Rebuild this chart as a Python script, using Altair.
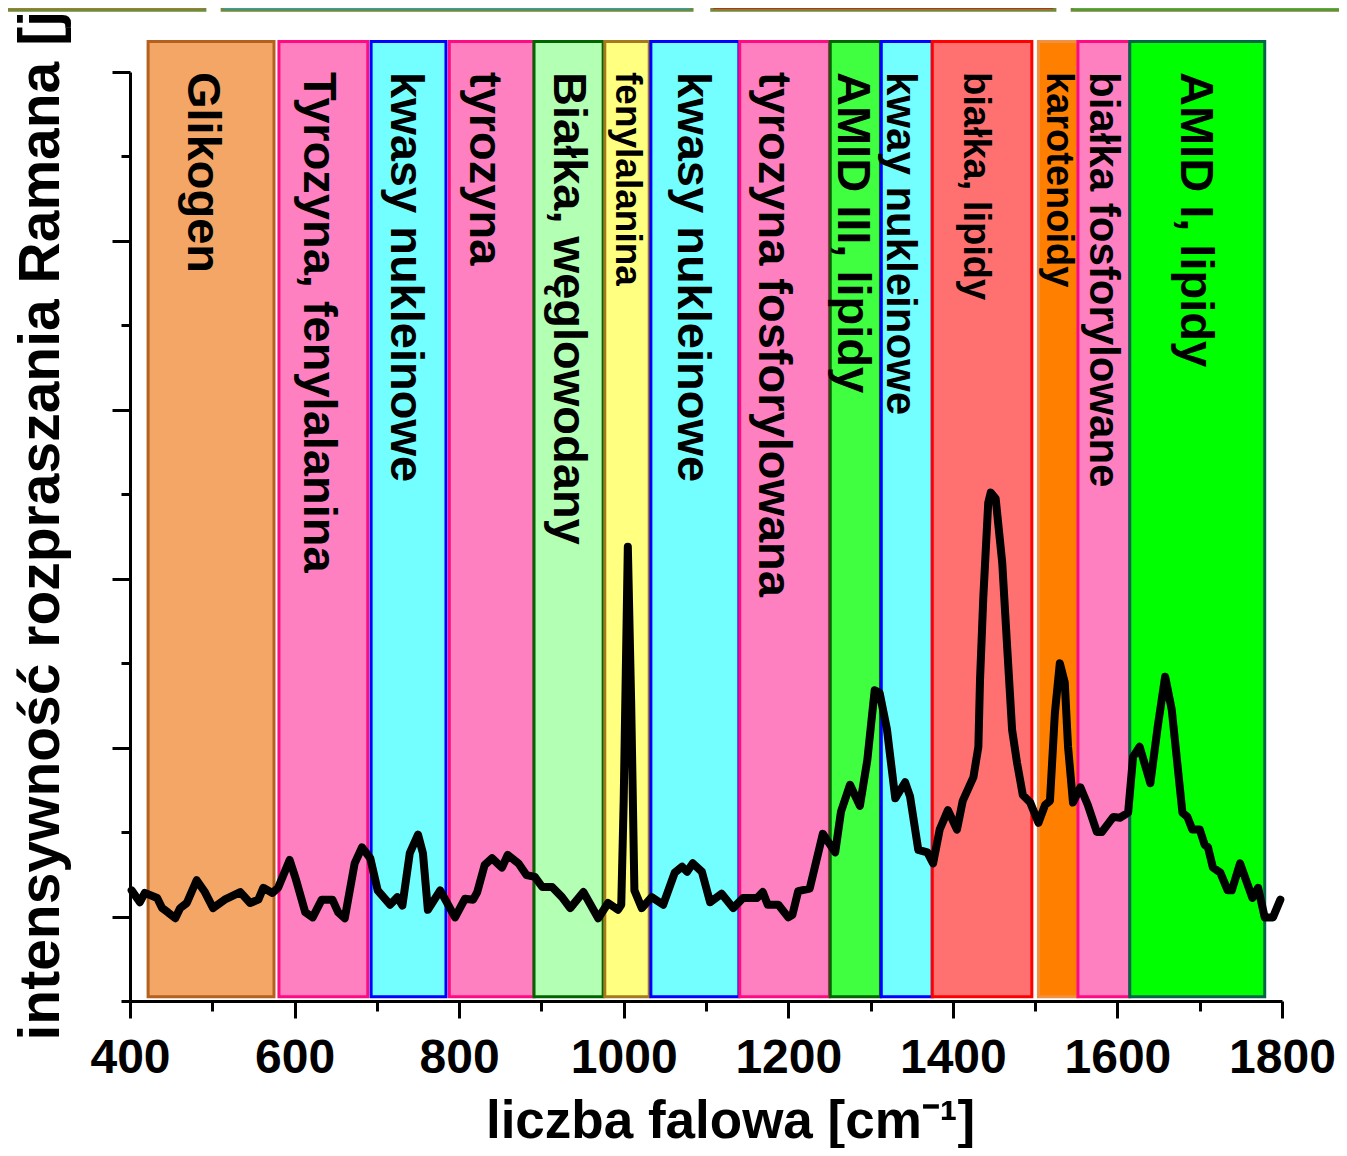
import altair as alt
import pandas as pd

# ---- spectrum ----
wavenumber = [402, 412, 418, 433, 439, 446, 455, 461, 469, 481, 491, 501, 515, 534, 546, 556, 562, 573, 580,
              594, 601, 613, 622, 633, 646, 653, 661, 673, 682, 692, 701, 716, 725, 731, 740, 750, 756, 762,
              777, 795, 807, 817, 822, 831, 840, 852, 859, 872, 882, 892, 901, 913, 925, 935, 951, 969, 981,
              993, 997, 1000, 1005, 1009, 1013, 1022, 1034, 1048, 1062, 1071, 1077, 1084, 1095, 1105, 1119,
              1133, 1145, 1162, 1169, 1175, 1188, 1200, 1205, 1212, 1226, 1242, 1257, 1264, 1275, 1287, 1296,
              1305, 1311, 1320, 1330, 1342, 1348, 1358, 1369, 1376, 1384, 1394, 1405, 1412, 1425, 1431, 1433,
              1437, 1443, 1446, 1452, 1460, 1466, 1472, 1478, 1485, 1494, 1504, 1512, 1518, 1524, 1530, 1536,
              1540, 1546, 1555, 1564, 1575, 1581, 1595, 1603, 1613, 1619, 1627, 1640, 1649, 1658, 1666, 1679,
              1685, 1691, 1700, 1706, 1710, 1716, 1725, 1734, 1739, 1749, 1764, 1771, 1779, 1789, 1798]
intensity = [1.31, 1.17, 1.28, 1.22, 1.10, 1.05, 0.98, 1.10, 1.16, 1.43, 1.29, 1.10, 1.20, 1.29, 1.16, 1.20,
             1.34, 1.28, 1.34, 1.67, 1.46, 1.05, 0.99, 1.20, 1.20, 1.05, 0.98, 1.63, 1.82, 1.69, 1.31, 1.14,
             1.23, 1.13, 1.75, 1.97, 1.75, 1.08, 1.31, 0.99, 1.21, 1.20, 1.29, 1.61, 1.69, 1.58, 1.73, 1.63,
             1.49, 1.47, 1.35, 1.35, 1.23, 1.10, 1.29, 0.98, 1.16, 1.08, 1.14, 2.38, 5.38, 3.56, 1.31, 1.10,
             1.23, 1.14, 1.52, 1.59, 1.53, 1.63, 1.53, 1.17, 1.27, 1.10, 1.22, 1.22, 1.29, 1.14, 1.14, 0.99,
             1.02, 1.30, 1.33, 1.98, 1.76, 2.24, 2.56, 2.31, 2.85, 3.68, 3.65, 3.21, 2.40, 2.59, 2.42, 1.79,
             1.76, 1.63, 2.03, 2.26, 2.03, 2.37, 2.65, 3.01, 3.80, 4.78, 5.90, 6.02, 5.95, 5.19, 4.19, 3.21,
             2.82, 2.44, 2.35, 2.11, 2.32, 2.37, 3.41, 4.00, 3.77, 3.01, 2.35, 2.53, 2.32, 2.00, 2.00, 2.18,
             2.17, 2.23, 2.89, 3.01, 2.58, 3.25, 3.84, 3.45, 2.23, 2.18, 2.03, 2.03, 1.85, 1.82, 1.58, 1.52,
             1.31, 1.31, 1.63, 1.22, 1.34, 0.99, 0.99, 1.20]

# ---- assignment bands ----
band_start = [422, 581, 693, 788, 891, 977, 1033, 1141, 1251, 1313, 1375, 1504, 1552, 1615]
band_end = [575, 689, 784, 891, 975, 1031, 1140, 1250, 1312, 1375, 1496, 1552, 1615, 1779]
band_fill = ["#F4A666", "#FF80C0", "#73FFFF", "#FF80C0", "#B3FFB3", "#FFFF80", "#73FFFF",
             "#FF80C0", "#40FF40", "#73FFFF", "#FF7070", "#FF8000", "#FF80C0", "#00FF00"]
band_stroke = ["#B4601E", "#FF0A80", "#0000FF", "#FF0A80", "#006400", "#A47A1C", "#0000FF",
               "#FF0A80", "#006400", "#0000FF", "#FF0000", "#F09040", "#FF0A80", "#00664A"]
band_label = ["Glikogen", "Tyrozyna, fenylalanina", "kwasy nukleinowe", "tyrozyna",
              "Białka, węglowodany", "fenylalanina", "kwasy nukleinowe", "tyrozyna fosforylowana",
              "AMID III, lipidy", "kway nukleinowe", "białka, lipidy", "karotenoidy",
              "białka fosforylowane", "AMID I, lipidy"]
label_pos = [487, 628, 734, 830, 932, 1004, 1083, 1181, 1277, 1336, 1427, 1528, 1582, 1694]
label_size = [47, 47, 47, 47, 47, 37, 47, 47, 47, 42, 38, 38, 42, 47]
band_bottom = 0.05
band_top = 11.36
label_top = 11.0

# ---- cut-off boxes at the very top ----
top_start = [242, 512, 1107, 1545]
top_end = [491, 1083, 1524, 1879]
top_fill = ["#B87820", "#00B0F0", "#FF0000", "#33CC33"]

x_major = [400, 600, 800, 1000, 1200, 1400, 1600, 1800]
x_minor = [500, 700, 900, 1100, 1300, 1500, 1700]
y_major = [1, 3, 5, 7, 9, 11]
y_minor = [0, 2, 4, 6, 8, 10]

FONT = "Liberation Sans"

spec_df = pd.DataFrame({"x": wavenumber, "y": intensity})
band_df = pd.DataFrame({"x": band_start, "x2": band_end, "fill": band_fill, "stroke": band_stroke,
                        "y": [band_bottom] * len(band_start), "y2": [band_top] * len(band_start)})
label_df = pd.DataFrame({"x": label_pos, "label": band_label, "size": label_size,
                         "y": [label_top] * len(label_pos)})
top_df = pd.DataFrame({"x": top_start, "x2": top_end, "fill": top_fill,
                       "y": [11.73] * 4, "y2": [13.5] * 4})

xscale = alt.Scale(domain=[400, 1800], nice=False, zero=False)
yscale = alt.Scale(domain=[0, 11], nice=False, zero=False)

x_axis_major = alt.Axis(values=x_major, orient="bottom", format="d", tickSize=17, tickWidth=3,
                        tickColor="black", domainWidth=3, domainColor="black", grid=False,
                        labelFont=FONT, labelFontSize=48, labelFontWeight="bold", labelColor="black",
                        labelPadding=16, labelFlush=False,
                        title="liczba falowa [cm⁻¹]", titleFont=FONT, titleFontSize=53,
                        titleFontWeight="bold", titleColor="black", titleX=600, titleY=136,
                        titleBaseline="alphabetic", titleAlign="center")
y_axis_major = alt.Axis(values=y_major, orient="left", tickSize=18, tickWidth=3, tickColor="black",
                        domainWidth=3, domainColor="black", grid=False, labels=False,
                        title="intensywność rozpraszania Ramana [j.u.]", titleFont=FONT,
                        titleFontSize=57, titleFontWeight="bold", titleColor="black",
                        titleAngle=270, titleX=-72, titleY=968, titleAlign="left",
                        titleBaseline="alphabetic")
x_axis_minor = alt.Axis(values=x_minor, orient="bottom", tickSize=10, tickWidth=3, tickColor="black",
                        domain=False, labels=False, grid=False, title=None)
y_axis_minor = alt.Axis(values=y_minor, orient="left", tickSize=9, tickWidth=3, tickColor="black",
                        domain=False, labels=False, grid=False, title=None)

X = alt.X("x:Q", scale=xscale, axis=x_axis_major)
Y = alt.Y("y:Q", scale=yscale, axis=y_axis_major)

tops = alt.Chart(top_df).mark_rect(stroke="#6E8B3D", strokeWidth=3).encode(
    x=X, x2="x2:Q", y=Y, y2="y2:Q", color=alt.Color("fill:N", scale=None))

bands = alt.Chart(band_df).mark_rect(strokeWidth=3).encode(
    x=X, x2="x2:Q", y=Y, y2="y2:Q",
    color=alt.Color("fill:N", scale=None),
    stroke=alt.Stroke("stroke:N", scale=None))

labels = alt.Chart(label_df).mark_text(angle=90, align="left", baseline="middle", font=FONT,
                                       fontWeight="bold", color="black").encode(
    x=X, y=Y, text="label:N", size=alt.Size("size:Q", scale=None))

major = alt.layer(tops, bands, labels)

line = alt.Chart(spec_df).mark_line(color="black", strokeWidth=8, strokeJoin="round",
                                    strokeCap="round").encode(
    x=alt.X("x:Q", scale=xscale, axis=x_axis_minor),
    y=alt.Y("y:Q", scale=yscale, axis=y_axis_minor))

chart = alt.layer(major, line).resolve_axis(x="independent", y="independent").properties(
    width=1152, height=929,
    padding={"left": 122, "top": 64, "right": 57, "bottom": 147},
    autosize=alt.AutoSizeParams(type="none"),
    background="white",
).configure_view(stroke=None)

chart.save("out.html", embed_options={"renderer": "svg", "actions": False})
